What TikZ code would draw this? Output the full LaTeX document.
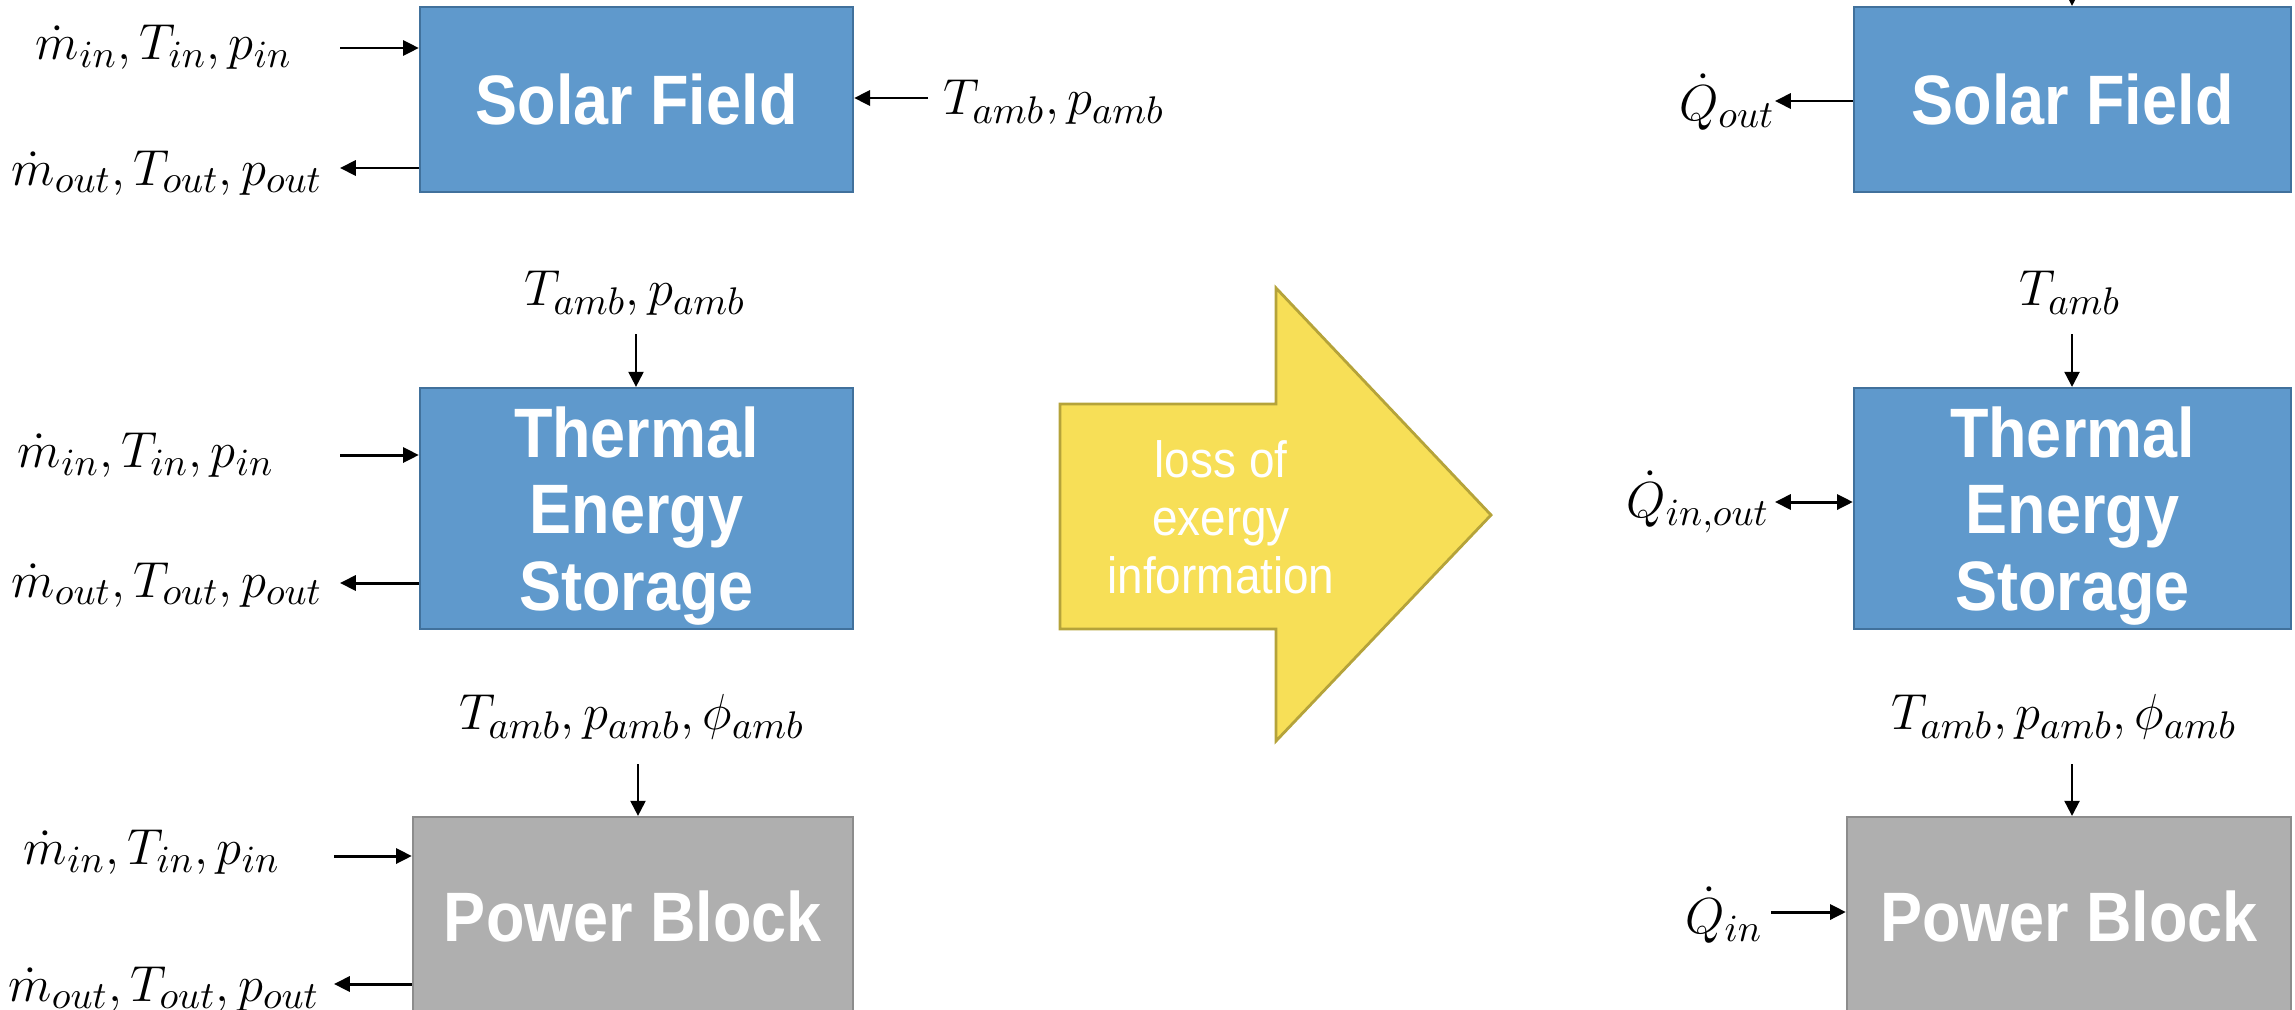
\documentclass[tikz,border=0pt]{standalone}
\usepackage{fontspec}
\usetikzlibrary{arrows.meta}
\newfontfamily\boxfont[FakeStretch=0.9]{Liberation Sans}
\renewcommand\defaultscriptratio{.76}
\definecolor{bluefill}{HTML}{5F99CC}
\definecolor{blueline}{HTML}{41719C}
\definecolor{grayfill}{HTML}{AFAFAF}
\definecolor{grayline}{HTML}{8C8C8C}
\definecolor{yelfill}{HTML}{F7DF57}
\definecolor{yelline}{HTML}{B5A33A}
\begin{document}
\begin{tikzpicture}[x=0.01cm,y=-0.01cm,
  arr/.style={line width=0.85pt,-{Triangle[length=4.5pt,width=4.3pt]}},
  varr/.style={line width=0.6pt,-{Triangle[length=4.3pt,width=4.3pt]}},
  dblarr/.style={line width=0.85pt,{Triangle[length=4.5pt,width=4.3pt]}-{Triangle[length=4.5pt,width=4.3pt]}},
  blockbox/.style={line width=0.6pt,text=white,align=center,inner sep=0pt,
    font=\boxfont\bfseries\fontsize{19.9}{21.7}\selectfont},
  bluebox/.style={blockbox,draw=blueline,fill=bluefill},
  graybox/.style={blockbox,draw=grayline,fill=grayfill},
  lbl/.style={inner sep=0pt,font=\fontsize{14.5}{17}\selectfont},
  bigarrowtext/.style={text=white,align=center,inner sep=0pt,
    font=\boxfont\fontsize{14.5}{16.5}\selectfont}
]
\useasboundingbox (0,0) rectangle (2295,1009);
\clip (0,0) rectangle (2295,1009);

% ---------- left column ----------
\node[bluebox,minimum width=4.33cm,minimum height=1.85cm] (sfL) at (636.5,99.5) {Solar Field};
\node[bluebox,minimum width=4.33cm,minimum height=2.41cm,text depth=0pt] (tesL) at (636.5,508.5) {Thermal\\Energy\\Storage};
\node[graybox,minimum width=4.40cm,minimum height=1.98cm] (pbL) at (633,916) {Power Block};

% Solar field left
\node[lbl] (sfLin) at (164,47) {$\dot{m}_{in}, T_{in}, p_{in}$};
\node[lbl] (sfLout) at (167,173) {$\dot{m}_{out}, T_{out}, p_{out}$};
\node[lbl] (sfLamb) at (1054,102) {$T_{amb}, p_{amb}$};
\coordinate (c1) at (340,48);
\coordinate (c2) at (340,168);
\coordinate (c3) at (928,98);
\draw[arr] (c1) -- (c1 -| sfL.west);
\draw[arr] (c2 -| sfL.west) -- (c2);
\draw[arr] (c3) -- (c3 -| sfL.east);

% TES left
\node[lbl] (tesLamb) at (635,293) {$T_{amb}, p_{amb}$};
\node[lbl] (tesLin) at (146,455) {$\dot{m}_{in}, T_{in}, p_{in}$};
\node[lbl] (tesLout) at (167,585) {$\dot{m}_{out}, T_{out}, p_{out}$};
\coordinate (c4) at (636,334);
\coordinate (c5) at (340,455);
\coordinate (c6) at (340,583);
\draw[varr] (c4) -- (c4 |- tesL.north);
\draw[arr] (c5) -- (c5 -| tesL.west);
\draw[arr] (c6 -| tesL.west) -- (c6);

% Power block left
\node[lbl] (pbLamb) at (632,717) {$T_{amb}, p_{amb}, \phi_{amb}$};
\node[lbl] (pbLin) at (152,852) {$\dot{m}_{in}, T_{in}, p_{in}$};
\node[lbl] (pbLout) at (164,989) {$\dot{m}_{out}, T_{out}, p_{out}$};
\coordinate (c7) at (638,764);
\coordinate (c8) at (334,856);
\coordinate (c9) at (334,984);
\draw[varr] (c7) -- (c7 |- pbL.north);
\draw[arr] (c8) -- (c8 -| pbL.west);
\draw[arr] (c9 -| pbL.west) -- (c9);

% ---------- middle arrow ----------
\path[draw=yelline,fill=yelfill,line width=0.8pt,line join=miter]
  (1060,404) -- (1276,404) -- (1276,288) -- (1491,515) -- (1276,741) -- (1276,629) -- (1060,629) -- cycle;
\node[bigarrowtext] (loss) at (1221,517) {loss of\\exergy\\information};

% ---------- right column ----------
\node[bluebox,minimum width=4.37cm,minimum height=1.85cm] (sfR) at (2072.5,99.5) {Solar Field};
\node[bluebox,minimum width=4.37cm,minimum height=2.41cm,text depth=0pt] (tesR) at (2072.5,508.5) {Thermal\\Energy\\Storage};
\node[graybox,minimum width=4.44cm,minimum height=1.98cm] (pbR) at (2069,916) {Power Block};

% Solar field right
\coordinate (c10) at (2072,-60);
\draw[varr] (c10) -- (c10 |- sfR.north);
\node[lbl] (sfRout) at (1727,102) {$\dot{Q}_{out}$};
\coordinate (c11) at (1775,101);
\draw[arr] (c11 -| sfR.west) -- (c11);

% TES right
\node[lbl] (tesRamb) at (2070,293) {$T_{amb}$};
\coordinate (c12) at (2072,334);
\draw[varr] (c12) -- (c12 |- tesR.north);
\node[lbl] (tesRq) at (1698,502) {$\dot{Q}_{in,out}$};
\coordinate (c13) at (1775,502);
\draw[dblarr] (c13) -- (c13 -| tesR.west);

% Power block right
\node[lbl] (pbRamb) at (2064,717) {$T_{amb}, p_{amb}, \phi_{amb}$};
\coordinate (c14) at (2072,764);
\draw[varr] (c14) -- (c14 |- pbR.north);
\node[lbl] (pbRin) at (1724,915) {$\dot{Q}_{in}$};
\coordinate (c15) at (1771,912);
\draw[arr] (c15) -- (c15 -| pbR.west);
\end{tikzpicture}
\end{document}
